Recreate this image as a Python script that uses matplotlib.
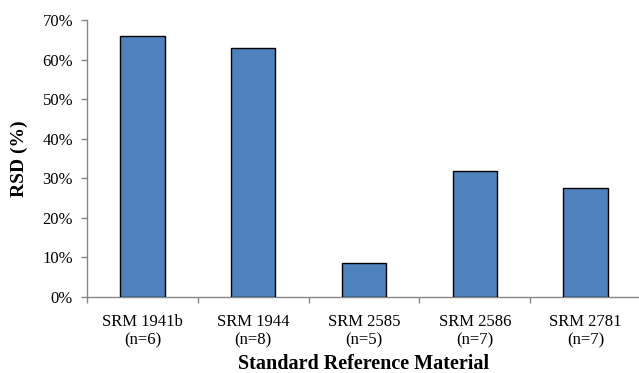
import matplotlib
matplotlib.use("Agg")
import matplotlib.pyplot as plt
from matplotlib.ticker import FixedLocator, PercentFormatter

categories = ["SRM 1941b\n(n=6)", "SRM 1944\n(n=8)", "SRM 2585\n(n=5)", "SRM 2586\n(n=7)", "SRM 2781\n(n=7)"]
rsd = [66.0, 62.9, 8.7, 31.8, 27.5]
yticks = [0, 10, 20, 30, 40, 50, 60, 70]

plt.rcParams['font.family'] = ['Liberation Serif', 'DejaVu Serif']

W, H = 639, 373
fig = plt.figure(figsize=(W / 100, H / 100), dpi=100)
ax = fig.add_axes([87 / W, 76 / H, 554 / W, 277 / H])

x = list(range(len(categories)))
ax.bar(x, rsd, width=0.4, color="#4F81BD", edgecolor="black", linewidth=1.0, zorder=3)

ax.set_xlim(-0.5, len(categories) - 0.5)
ax.set_ylim(0, 70)
ax.set_yticks(yticks)
ax.yaxis.set_major_formatter(PercentFormatter(decimals=0))
ax.set_xticks(x)
ax.set_xticklabels(categories, fontsize=12, linespacing=1.25)
ax.xaxis.set_minor_locator(FixedLocator([i + 0.5 for i in range(len(categories) - 1)] + [-0.5]))
ax.tick_params(axis="x", which="major", length=0, pad=12)
ax.tick_params(axis="x", which="minor", length=4, color="#868686", width=1)
ax.tick_params(axis="y", which="major", length=4, color="#868686", width=1, labelsize=12, pad=6)

for s in ["top", "right"]:
    ax.spines[s].set_visible(False)
for s in ["left", "bottom"]:
    ax.spines[s].set_color("#868686")
    ax.spines[s].set_linewidth(1)

ax.set_ylabel("RSD (%)", fontsize=14, fontweight="bold")
ax.set_xlabel("Standard Reference Material", fontsize=14.5, fontweight="bold")
ax.yaxis.set_label_coords(-0.106, 0.5)
ax.xaxis.set_label_coords(0.5, -0.205)

fig.savefig("out.png", dpi=100)
